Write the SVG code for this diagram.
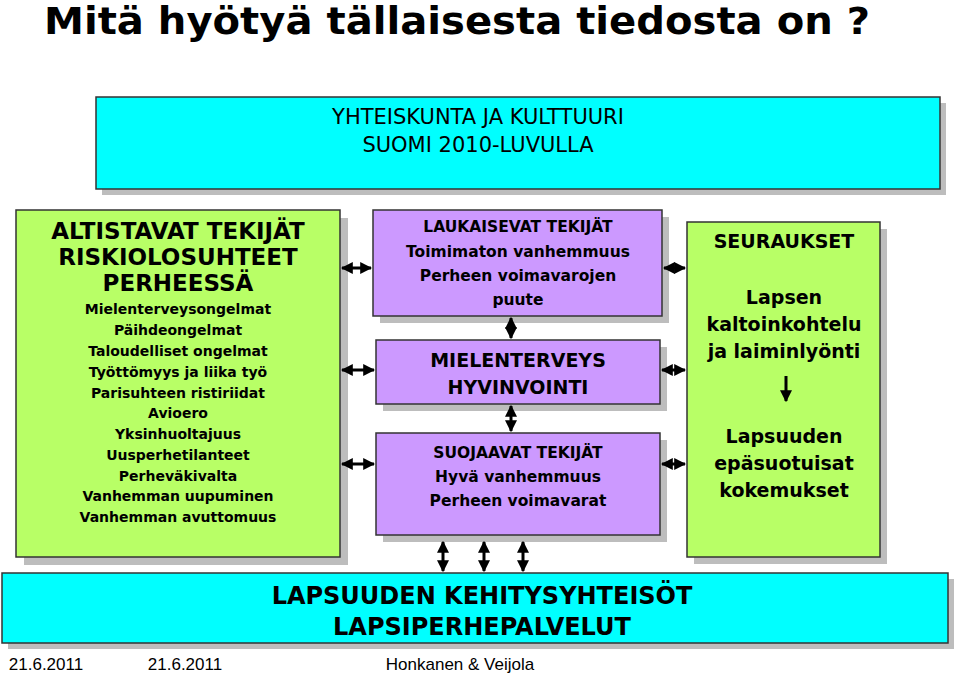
<svg xmlns="http://www.w3.org/2000/svg" width="960" height="674" viewBox="0 0 960 674">
<defs>
<marker id="ah" viewBox="0 0 10 10" refX="9" refY="5" markerWidth="4" markerHeight="4" orient="auto-start-reverse"><path d="M0,0L10,5L0,10z" fill="#000"/></marker>
</defs>
<style>
.sh{fill:#bdbdbd}
.bx{stroke:#333;stroke-width:1.5}
.cy{fill:#00ffff}.gr{fill:#b8ff66}.pu{fill:#cc99ff}
text{font-family:"DejaVu Sans","Liberation Sans",sans-serif;text-anchor:middle;fill:#000;font-weight:bold}
.s{font-size:14px}.p{font-size:15.5px}.m{font-size:19px}.l{font-size:23px}.t{font-size:21px;font-weight:normal}
.ln{stroke:#000;stroke-width:3;fill:none;marker-start:url(#ah);marker-end:url(#ah)}
.one{stroke:#000;stroke-width:3;fill:none;marker-end:url(#ah)}
.f{font-family:"Liberation Sans",sans-serif;font-weight:normal;font-size:17px}
</style>
<rect width="960" height="674" fill="#fff"/>
<text x="44" y="34" textLength="826" lengthAdjust="spacingAndGlyphs" style="font-size:37px;text-anchor:start">Mitä hyötyä tällaisesta tiedosta on ?</text>
<g id="top"><rect class="sh" x="102" y="103" width="844" height="92"/><rect class="bx cy" x="96" y="97" width="844" height="92"/>
<text class="t" x="478" y="124">YHTEISKUNTA JA KULTTUURI</text><text class="t" x="478" y="152">SUOMI 2010-LUVULLA</text></g>
<g id="altistavat"><rect class="sh" x="24" y="218" width="324" height="347"/><rect class="bx gr" x="16" y="210" width="324" height="347"/>
<text class="l" x="178" y="239">ALTISTAVAT TEKIJÄT</text><text class="l" x="178" y="265">RISKIOLOSUHTEET</text><text class="l" x="178" y="291">PERHEESSÄ</text>
<text class="s" x="178" y="314">Mielenterveysongelmat</text><text class="s" x="178" y="335">Päihdeongelmat</text><text class="s" x="178" y="356">Taloudelliset ongelmat</text><text class="s" x="178" y="377">Työttömyys ja liika työ</text><text class="s" x="178" y="398">Parisuhteen ristiriidat</text><text class="s" x="178" y="418">Avioero</text><text class="s" x="178" y="439">Yksinhuoltajuus</text><text class="s" x="178" y="460">Uusperhetilanteet</text><text class="s" x="178" y="481">Perheväkivalta</text><text class="s" x="178" y="501">Vanhemman uupuminen</text><text class="s" x="178" y="522">Vanhemman avuttomuus</text></g>
<g id="laukaisevat"><rect class="sh" x="380" y="217" width="289" height="106"/><rect class="bx pu" x="373" y="210" width="289" height="106"/>
<text class="p" x="518" y="232">LAUKAISEVAT TEKIJÄT</text><text class="p" x="518" y="257">Toimimaton vanhemmuus</text><text class="p" x="518" y="281">Perheen voimavarojen</text><text class="p" x="518" y="305">puute</text></g>
<g id="mielenterveys"><rect class="sh" x="383" y="347" width="284" height="64"/><rect class="bx pu" x="376" y="340" width="284" height="64"/>
<text class="m" x="518" y="367">MIELENTERVEYS</text><text class="m" x="518" y="394">HYVINVOINTI</text></g>
<g id="suojaavat"><rect class="sh" x="383" y="440" width="284" height="102"/><rect class="bx pu" x="376" y="433" width="284" height="102"/>
<text class="p" x="518" y="458">SUOJAAVAT TEKIJÄT</text><text class="p" x="518" y="482">Hyvä vanhemmuus</text><text class="p" x="518" y="506">Perheen voimavarat</text></g>
<g id="seuraukset"><rect class="sh" x="694" y="229" width="193" height="335"/><rect class="bx gr" x="687" y="222" width="193" height="335"/>
<text class="m" x="784" y="248">SEURAUKSET</text><text class="m" x="784" y="304">Lapsen</text><text class="m" x="784" y="331">kaltoinkohtelu</text><text class="m" x="784" y="358">ja laiminlyönti</text>
<text class="m" x="784" y="443">Lapsuuden</text><text class="m" x="784" y="470">epäsuotuisat</text><text class="m" x="784" y="497">kokemukset</text></g>
<g id="bottom"><rect class="sh" x="8" y="579" width="946" height="70"/><rect class="bx cy" x="2" y="573" width="946" height="70"/>
<text class="l" x="482" y="604" style="font-size:24px">LAPSUUDEN KEHITYSYHTEISÖT</text><text class="l" x="482" y="635" style="font-size:24px">LAPSIPERHEPALVELUT</text></g>
<g id="connectors">
<line class="ln" x1="342" y1="268" x2="371" y2="268"/><line class="ln" x1="342" y1="370" x2="374" y2="370"/><line class="ln" x1="342" y1="464" x2="374" y2="464"/>
<line class="ln" x1="664" y1="268" x2="685" y2="268"/><line class="ln" x1="662" y1="370" x2="685" y2="370"/><line class="ln" x1="662" y1="464" x2="685" y2="464"/>
<line class="ln" x1="511" y1="318" x2="511" y2="338"/><line class="ln" x1="511" y1="406" x2="511" y2="431"/>
<line class="one" x1="786" y1="376" x2="786" y2="401"/>
<line class="ln" x1="443" y1="542" x2="443" y2="571"/><line class="ln" x1="484" y1="542" x2="484" y2="571"/><line class="ln" x1="523" y1="542" x2="523" y2="571"/>
</g>
<g><text class="f" x="46" y="670">21.6.2011</text><text class="f" x="185" y="670">21.6.2011</text><text class="f" x="460" y="670">Honkanen &amp; Veijola</text></g>
</svg>
